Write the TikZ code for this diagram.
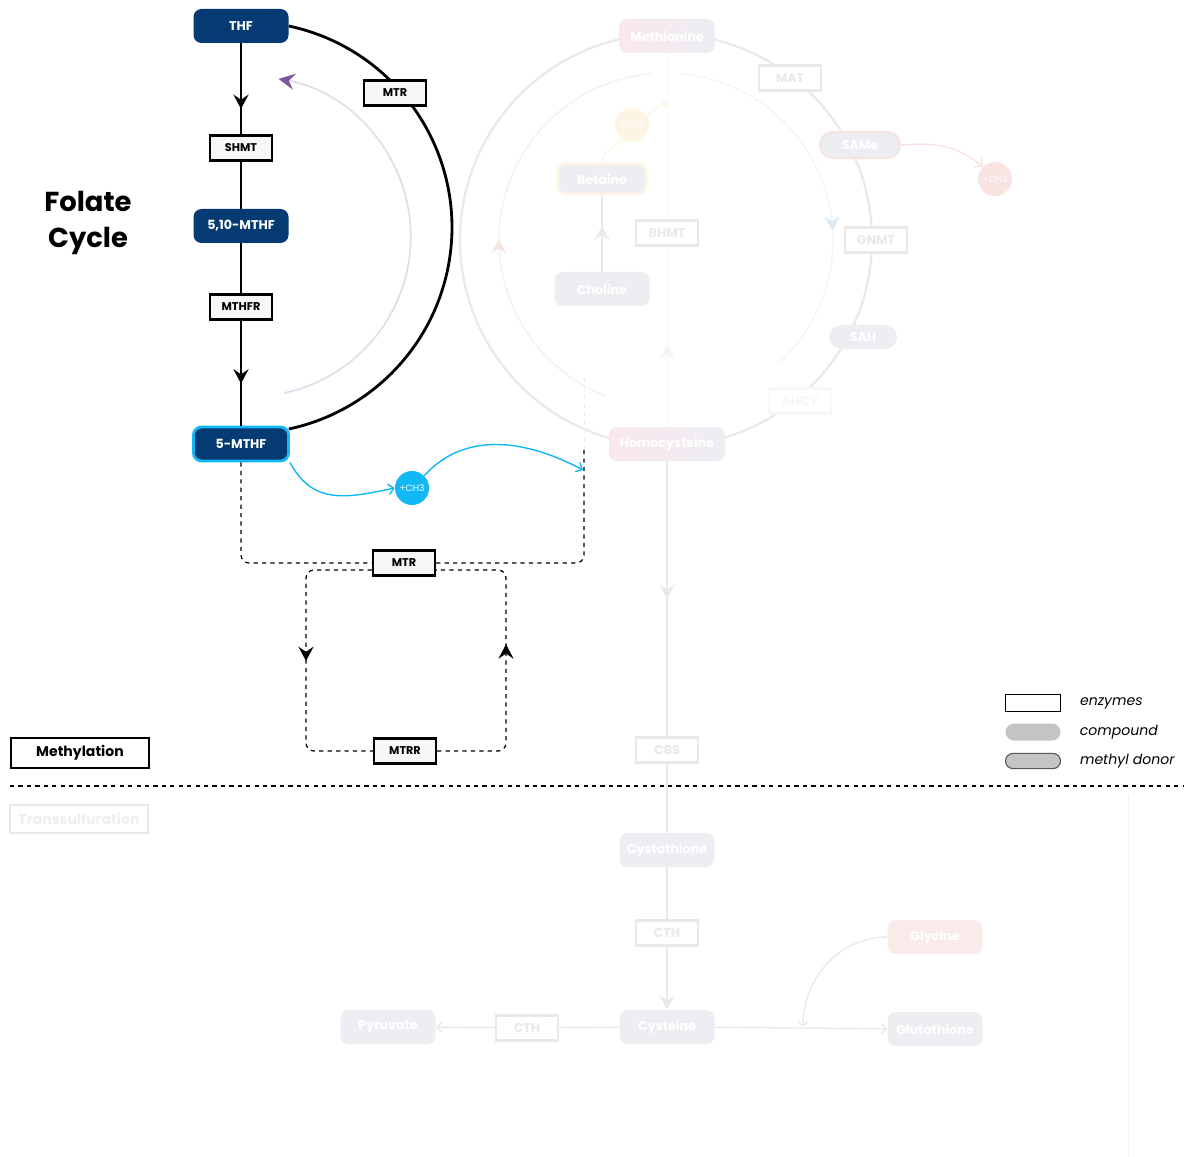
\documentclass[tikz,border=0pt]{standalone}
\usepackage{fontspec}
\setmainfont{Poppins}
\usetikzlibrary{arrows.meta,decorations.markings,positioning}

\definecolor{navy}{RGB}{5,58,115}
\definecolor{cyanch}{RGB}{18,184,246}
\definecolor{enzfill}{RGB}{247,247,247}
\definecolor{fadefill}{RGB}{236,238,242}
\definecolor{fadeline}{RGB}{233,233,233}
\definecolor{fadetext}{RGB}{238,238,238}
\definecolor{lavender}{RGB}{226,219,234}
\definecolor{arrowpurple}{RGB}{126,86,160}
\definecolor{pinkfill}{RGB}{250,232,239}
\definecolor{pinkline}{RGB}{248,226,226}
\definecolor{yellowline}{RGB}{253,245,228}
\definecolor{bluefaint}{RGB}{221,233,245}
\definecolor{legendgrey}{RGB}{196,196,196}

\begin{document}
\begin{tikzpicture}[x=0.25mm,y=0.25mm,
  cpd/.style={rounded corners=2mm, fill=navy, text=white, font=\bfseries\fontsize{9}{10}\selectfont, minimum width=23.75mm, minimum height=8.5mm, inner sep=0pt},
  enz/.style={draw=black, line width=1.6pt, fill=enzfill, font=\bfseries\fontsize{8}{10}\selectfont, minimum width=15.5mm, minimum height=6.2mm, inner sep=0pt},
  fcpd/.style={rounded corners=2mm, fill=fadefill, text=white, font=\bfseries\fontsize{9}{10}\selectfont, minimum width=23.75mm, minimum height=8.5mm, inner sep=0pt},
  fenz/.style={draw=fadeline, line width=1.6pt, fill=white, text=fadeline, font=\bfseries\fontsize{9}{10}\selectfont, minimum width=15.5mm, minimum height=6.2mm, inner sep=0pt},
  donor/.style={circle, fill=cyanch, text=white, font=\fontsize{6.5}{7}\selectfont, minimum size=8.5mm, inner sep=0pt},
  faint/.style={draw=fadeline, line width=1pt},
  midarrow/.style={postaction=decorate, decoration={markings, mark=at position #1 with {\arrow{Stealth[length=3.6mm,width=3.8mm,inset=1.3mm]}}}},
  ]
\useasboundingbox (0,0) rectangle (1187,-1157);

% faded methylation cycle
\draw[fadeline, line width=1.6pt] (666,-240) circle[radius=206];
\draw[pinkline!60, line width=1pt, postaction=decorate,
  decoration={markings, mark=at position 0.45 with {\arrow{Stealth[length=3.6mm,width=3.8mm,inset=1.3mm,color=pinkline]}}}]
  (666,-240) ++(249:167) arc[start angle=249, end angle=95, radius=167];
\draw[fadeline!50, line width=1pt, postaction=decorate,
  decoration={markings, mark=at position 0.62 with {\arrow{Stealth[length=3.6mm,width=3.8mm,inset=1.3mm,color=bluefaint]}}}]
  (666,-240) ++(85:167) arc[start angle=85, end angle=-47, radius=167];

\node[fcpd, left color=pinkfill, right color=fadefill] (methionine) at (667,-36) {Methionine};
\node[fcpd, left color=pinkfill, right color=fadefill, minimum width=29mm] (homocys) at (667,-444) {Homocysteine};
\node[fenz] (mat) at (790,-78) {MAT};
\node[fcpd, draw=pinkline, line width=1.5pt, rounded corners=3.2mm, minimum width=20mm, minimum height=6.5mm] (same) at (860,-145) {SAMe};
\node[donor, fill=pinkline] (ch3r) at (995,-179) {+CH3};
\node[fenz] (gnmt) at (876,-240) {GNMT};
\node[fcpd, rounded corners=3mm, minimum width=17mm, minimum height=6mm] (sah) at (863,-337) {SAH};
\node[fenz, draw=fadeline!30, text=fadeline!40] (ahcy) at (800,-401) {AHCY};
\node[fcpd, draw=yellowline, line width=2pt, minimum width=22mm, minimum height=7.5mm] (betaine) at (602,-179) {Betaine};
\node[donor, fill=yellowline] (ch3b) at (632,-125) {+CH3};
\node[fcpd] (choline) at (602,-289) {Choline};

\draw[fadeline!50, line width=0.6pt, midarrow=0.22] (homocys) -- (methionine);
\node[fenz] (bhmt) at (667,-233) {BHMT};
\draw[faint, midarrow=0.6] (choline) -- (betaine);
\draw[yellowline, line width=1pt] (betaine.north) to[out=90, in=235] (ch3b);
\draw[yellowline, line width=1pt, -{Straight Barb[length=1.2mm]}] (ch3b) to[out=35, in=200] (667,-103);
\draw[pinkline, line width=1pt, -{Straight Barb[length=1.5mm]}] (same.east) to[out=5, in=140] (ch3r.north west);

% faded transsulfuration
\node[fenz] (cbs) at (667,-750) {CBS};
\node[fcpd] (cystathione) at (667,-850) {Cystathione};
\node[fenz] (cthv) at (667,-933) {CTH};
\node[fcpd] (cysteine) at (667,-1027) {Cysteine};
\node[fenz] (cthh) at (527,-1028) {CTH};
\node[fcpd] (pyruvate) at (388,-1027) {Pyruvate};
\node[fcpd, fill=pinkline!70] (glycine) at (935,-937) {Glycine};
\node[fcpd] (glutathione) at (935,-1029) {Glutathione};
\coordinate (join) at (803,-1027);

\draw[faint, midarrow=0.5] (homocys) -- (cbs);
\draw[faint] (cbs) -- (cystathione);
\draw[faint] (cystathione) -- (cthv);
\draw[faint, -{Stealth[length=3.6mm,width=3.8mm,inset=1.3mm]}] (cthv) -- (cysteine);
\draw[faint] (cysteine) -- (cthh);
\draw[faint, -{Straight Barb[length=1.2mm]}] (cthh) -- (pyruvate);
\draw[faint, -{Straight Barb[length=1.2mm]}] (cysteine) -- (glutathione);
\draw[faint, -{Straight Barb[length=1.2mm]}] (glycine.west) to[out=180, in=90] (join);
\draw[fadeline!60, line width=0.6pt] (1128,-795) -- (1128,-1157);

% sections
\draw[dashed, line width=0.9pt] (10,-786) -- (1183,-786);
\node[draw=black, line width=1.2pt, minimum width=34.5mm, minimum height=7.5mm, font=\bfseries\fontsize{10}{12}\selectfont] (methylation) at (80,-753) {Methylation};
\node[draw=fadeline, line width=1.2pt, text=fadetext, minimum width=34.5mm, minimum height=7mm, font=\bfseries\fontsize{10}{12}\selectfont] (transsulf) at (79,-819) {Transsulfuration};

% folate cycle
\node[font=\bfseries\fontsize{19.5}{25}\selectfont, align=center] (title) at (88,-223) {Folate\\Cycle};

\draw[lavender, line width=1.2pt, -{Stealth[length=4mm,width=4mm,inset=1.4mm,color=arrowpurple]}]
  (284,-393) arc[start angle=-78, end angle=80, radius=160];

\node[cpd] (thf) at (241,-26) {THF};
\node[enz] (shmt) at (241,-148) {SHMT};
\node[cpd] (mthf510) at (241,-226) {5,10-MTHF};
\node[enz] (mthfr) at (241,-307) {MTHFR};
\node[cpd, draw=cyanch, line width=2pt] (mthf5) at (241,-444) {5-MTHF};

\draw[line width=1pt, midarrow=0.72] (thf) -- (shmt);
\draw[line width=1pt] (shmt) -- (mthf510);
\draw[line width=1pt] (mthf510) -- (mthfr);
\draw[line width=1pt, midarrow=0.6] (mthfr) -- (mthf5);

\draw[line width=2pt] (thf.east) arc[start angle=78, end angle=-78, radius=206];
\node[enz] (mtrtop) at (395,-93) {MTR};

% methyl transfer
\node[donor] (ch3) at (412,-488) {+CH3};
\coordinate (recv) at (583,-470);
\draw[cyanch, line width=1pt, -{Straight Barb[length=1.3mm]}] (mthf5.south east) to[out=-62, in=192, looseness=1.15] (ch3.west);
\draw[cyanch, line width=1pt, -{Straight Barb[length=1.3mm]}] (ch3.north east) to[out=48, in=152] (recv);

% MTR / MTRR loop
\node[enz] (mtr) at (404,-563) {MTR};
\node[enz] (mtrr) at (405,-751) {MTRR};
\coordinate (recvtop) at (584,-377);
\coordinate (recvlow) at (584,-450);
\coordinate (loopl) at (306,-660);
\coordinate (loopr) at (506,-660);

\draw[dashed, line width=0.9pt, rounded corners=2mm] (mthf5) |- (mtr.west);
\draw[dashed, line width=0.9pt, rounded corners=2mm] (mtr.east) -| (recvlow);
\draw[dashed, line width=0.6pt, fadeline!80!black!30] (recvlow) -- (recvtop);
\draw[dashed, line width=0.9pt, rounded corners=2mm, midarrow=0.5] ([yshift=-1.75mm]mtr.west) -| (loopl) |- (mtrr.west);
\draw[dashed, line width=0.9pt, rounded corners=2mm, midarrow=0.55] (mtrr.east) -| (loopr) |- ([yshift=-1.75mm]mtr.east);
\node[enz] at (mtr) {MTR};

% legend
\node[draw=black, line width=0.9pt, fill=white, minimum width=13.75mm, minimum height=4.25mm, inner sep=0pt] (legenz) at (1033,-703) {};
\node[fill=legendgrey, rounded corners=2.1mm, minimum width=13.75mm, minimum height=4.25mm, inner sep=0pt] (legcpd) at (1033,-732) {};
\node[draw=black!65, fill=legendgrey, line width=0.8pt, rounded corners=1.9mm, minimum width=13.75mm, minimum height=3.8mm, inner sep=0pt] (legdonor) at (1033,-761) {};
\node[right=3.5mm of legenz, font=\itshape\fontsize{10}{12}\selectfont] {enzymes};
\node[right=3.5mm of legcpd, font=\itshape\fontsize{10}{12}\selectfont] {compound};
\node[right=3.5mm of legdonor, font=\itshape\fontsize{10}{12}\selectfont] {methyl donor};
\end{tikzpicture}
\end{document}
